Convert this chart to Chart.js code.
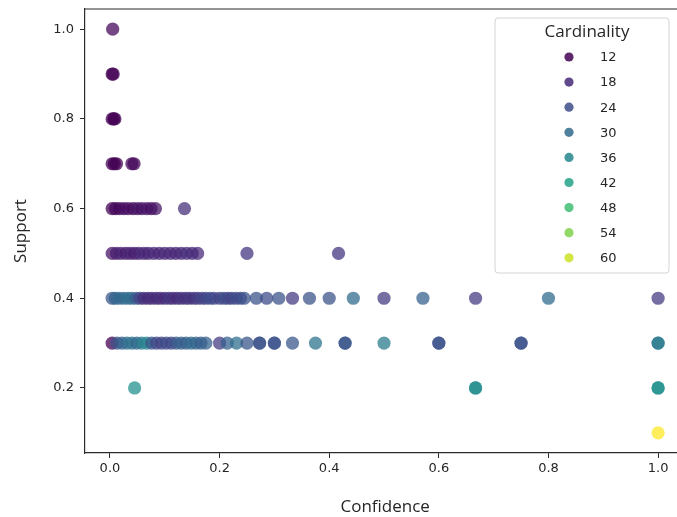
<!DOCTYPE html>
<html>
<head>
<meta charset="utf-8">
<script src="https://cdn.jsdelivr.net/npm/chart.js@4.4.1/dist/chart.umd.min.js"></script>
<style>
  html, body { margin: 0; padding: 0; background: #fff; overflow: hidden; }
  #quadro { position: relative; width: 677px; height: 517px; overflow: hidden; }
  #grafico { position: absolute; left: 0; top: 0; display: block; }
</style>
</head>
<body>
<div id="quadro">
  <canvas id="grafico" width="692" height="517"></canvas>
</div>
<script>
// suporte de cada faixa de regras, de cima para baixo
const suportes = [1.0, 0.9, 0.8, 0.7, 0.6, 0.5, 0.4, 0.3, 0.2, 0.1];

// confiança das regras em cada faixa de suporte
const confiancas = [
  [0.005],
  [0.004, 0.006],
  [0.004, 0.007, 0.009],
  [0.004, 0.008, 0.012, 0.04, 0.044],
  [0.004, 0.01, 0.017, 0.025, 0.033, 0.042, 0.05, 0.058, 0.067, 0.075, 0.083, 0.136],
  [0.004, 0.012, 0.02, 0.029, 0.037, 0.045, 0.053, 0.062, 0.07, 0.08, 0.09, 0.1, 0.11, 0.12, 0.13, 0.14, 0.15, 0.16, 0.25, 0.417],
  [0.004, 0.01, 0.017, 0.025, 0.033, 0.04, 0.048, 0.055, 0.062, 0.07, 0.077, 0.085, 0.092, 0.1, 0.108, 0.115, 0.123, 0.13, 0.138, 0.145, 0.153, 0.16, 0.168, 0.175, 0.183, 0.19, 0.2, 0.208, 0.215, 0.222, 0.23, 0.238, 0.245,
   0.267, 0.286, 0.308, 0.333, 0.364, 0.4, 0.444, 0.5, 0.571, 0.667, 0.8, 1.0],
  [0.004, 0.013, 0.022, 0.031, 0.04, 0.049, 0.058, 0.067, 0.076, 0.085, 0.094, 0.103, 0.112, 0.121, 0.13, 0.139, 0.148, 0.157, 0.166, 0.175,
   0.2, 0.214, 0.231, 0.25, 0.273, 0.273, 0.3, 0.3, 0.333, 0.375, 0.429, 0.429, 0.5, 0.6, 0.6, 0.75, 0.75, 1.0, 1.0],
  [0.045, 0.667, 0.667, 1.0, 1.0],
  [1.0]
];

// cardinalidade de cada regra (mesma ordem de confiancas)
const cardinalidades = [
  [13],
  [12, 12],
  [12, 12, 12],
  [12, 12, 12, 13, 13],
  [12, 13, 13, 14, 14, 13, 15, 14, 15, 14, 15, 19],
  [15, 16, 17, 16, 17, 16, 17, 18, 17, 18, 17, 18, 18, 17, 18, 19, 18, 18, 20, 20],
  [26, 28, 30, 29, 31, 30, 27, 22, 19, 18, 19, 18, 19, 18, 20, 19, 18, 20, 19, 20, 19, 21, 22, 22, 24, 23, 22, 24, 23, 22, 24, 23, 25,
   25, 24, 25, 21, 25, 25, 30, 21, 28, 21, 30, 21],
  [12, 25, 28, 30, 32, 29, 33, 36, 26, 23, 22, 24, 23, 26, 28, 27, 30, 29, 27, 28,
   21, 28, 31, 26, 25, 25, 25, 25, 26, 32, 25, 26, 33, 25, 25, 25, 25, 33, 33],
  [38, 37, 37, 37, 38],
  [64]
];

const niveisLegenda = [12, 18, 24, 30, 36, 42, 48, 54, 60];
const ticksConfianca = [0.0, 0.2, 0.4, 0.6, 0.8, 1.0];
const ticksSuporte = [0.2, 0.4, 0.6, 0.8, 1.0];

const paradasViridis = ["#440154", "#482475", "#414487", "#355f8d", "#2a788e", "#21918c",
  "#22a884", "#44bf70", "#7ad151", "#bddf26", "#fde725"];

function hexParaRgb(hex) {
  const n = parseInt(hex.slice(1), 16);
  return [(n >> 16) & 255, (n >> 8) & 255, n & 255];
}

function viridis(t, alfa) {
  const v = Math.min(1, Math.max(0, t)) * (paradasViridis.length - 1);
  const i = Math.min(Math.floor(v), paradasViridis.length - 2);
  const f = v - i;
  const a = hexParaRgb(paradasViridis[i]);
  const b = hexParaRgb(paradasViridis[i + 1]);
  const c = a.map((x, k) => Math.round(x + (b[k] - x) * f));
  return `rgba(${c[0]}, ${c[1]}, ${c[2]}, ${alfa})`;
}

const pontos = [];
const cardPontos = [];
suportes.forEach((s, linha) => {
  confiancas[linha].forEach((c, j) => {
    pontos.push({ x: c, y: s });
    cardPontos.push(cardinalidades[linha][j]);
  });
});

const cardMin = Math.min(...cardPontos);
const cardMax = Math.max(...cardPontos);
const corCard = (card, alfa) => viridis((card - cardMin) / (cardMax - cardMin), alfa);
const ALFA = 0.74;

const fonteTicks = { family: "DejaVu Sans", size: 13 };
const fonteTitulo = { family: "Open Sans", size: 17 };
const corEixo = "#2b2b2b";

// sem folga extra para os rótulos das pontas dos eixos
function semFolga(scale) {
  scale.paddingTop = 0;
  scale.paddingBottom = 0;
  scale.paddingLeft = 0;
  scale.paddingRight = 0;
}

// moldura superior e legenda de cores desenhadas sobre a área do gráfico
const pluginLegenda = {
  id: "legendaCardinalidade",
  afterDraw(chart) {
    const { ctx, chartArea } = chart;
    ctx.save();

    ctx.strokeStyle = corEixo;
    ctx.lineWidth = 1.2;
    ctx.beginPath();
    ctx.moveTo(chartArea.left, chartArea.top);
    ctx.lineTo(chartArea.right, chartArea.top);
    ctx.stroke();

    const caixa = { x: chartArea.left + 410, y: chartArea.top + 9, w: 174, h: 255 };
    ctx.beginPath();
    ctx.roundRect(caixa.x, caixa.y, caixa.w, caixa.h, 3);
    ctx.fillStyle = "rgba(255, 255, 255, 0.8)";
    ctx.fill();
    ctx.strokeStyle = "#d4d4d4";
    ctx.lineWidth = 1;
    ctx.stroke();

    ctx.fillStyle = "#262626";
    ctx.textBaseline = "middle";
    ctx.textAlign = "center";
    ctx.font = `${fonteTitulo.size}px "${fonteTitulo.family}"`;
    ctx.fillText("Cardinality", caixa.x + 92, caixa.y + 14);

    ctx.textAlign = "left";
    ctx.font = `${fonteTicks.size}px "${fonteTicks.family}"`;
    niveisLegenda.forEach((nivel, i) => {
      const y = caixa.y + 39 + i * 25.1;
      ctx.beginPath();
      ctx.arc(caixa.x + 74, y, 4.6, 0, Math.PI * 2);
      ctx.fillStyle = corCard(nivel, 0.85);
      ctx.fill();
      ctx.fillStyle = "#262626";
      ctx.fillText(String(nivel), caixa.x + 105, y + 1);
    });

    ctx.restore();
  }
};

new Chart(document.getElementById("grafico"), {
  type: "scatter",
  data: {
    datasets: [{
      label: "Cardinality",
      data: pontos,
      pointRadius: 6.6,
      pointBorderWidth: 0,
      pointBackgroundColor: cardPontos.map(c => corCard(c, ALFA))
    }]
  },
  options: {
    responsive: false,
    animation: false,
    devicePixelRatio: 1,
    events: [],
    layout: { padding: { left: 0, top: 9, right: 6, bottom: 0 } },
    plugins: {
      legend: { display: false },
      tooltip: { enabled: false }
    },
    scales: {
      x: {
        type: "linear",
        min: -0.0455,
        max: 1.0498,
        afterFit(scale) { scale.height = 64; semFolga(scale); },
        afterBuildTicks(scale) { scale.ticks = ticksConfianca.map(v => ({ value: v })); },
        border: { display: true, color: corEixo, width: 1.2 },
        grid: { drawOnChartArea: false, drawTicks: true, tickLength: 5, color: corEixo, lineWidth: 1 },
        ticks: {
          font: fonteTicks,
          color: "#262626",
          padding: 3,
          maxRotation: 0,
          callback: v => v.toFixed(1)
        },
        title: {
          display: true,
          text: "Confidence",
          font: fonteTitulo,
          color: "#262626",
          padding: { top: 0, bottom: 0 }
        }
      },
      y: {
        type: "linear",
        min: 0.055,
        max: 1.045,
        afterFit(scale) { scale.width = 85; semFolga(scale); },
        afterBuildTicks(scale) { scale.ticks = ticksSuporte.map(v => ({ value: v })); },
        border: { display: true, color: corEixo, width: 1.2 },
        grid: { drawOnChartArea: false, drawTicks: true, tickLength: 5, color: corEixo, lineWidth: 1 },
        ticks: {
          font: fonteTicks,
          color: "#262626",
          padding: 6,
          callback: v => v.toFixed(1)
        },
        title: {
          display: true,
          text: "Support",
          font: fonteTitulo,
          color: "#262626",
          padding: { top: 11, bottom: 0 }
        }
      }
    }
  },
  plugins: [pluginLegenda]
});
</script>
</body>
</html>
